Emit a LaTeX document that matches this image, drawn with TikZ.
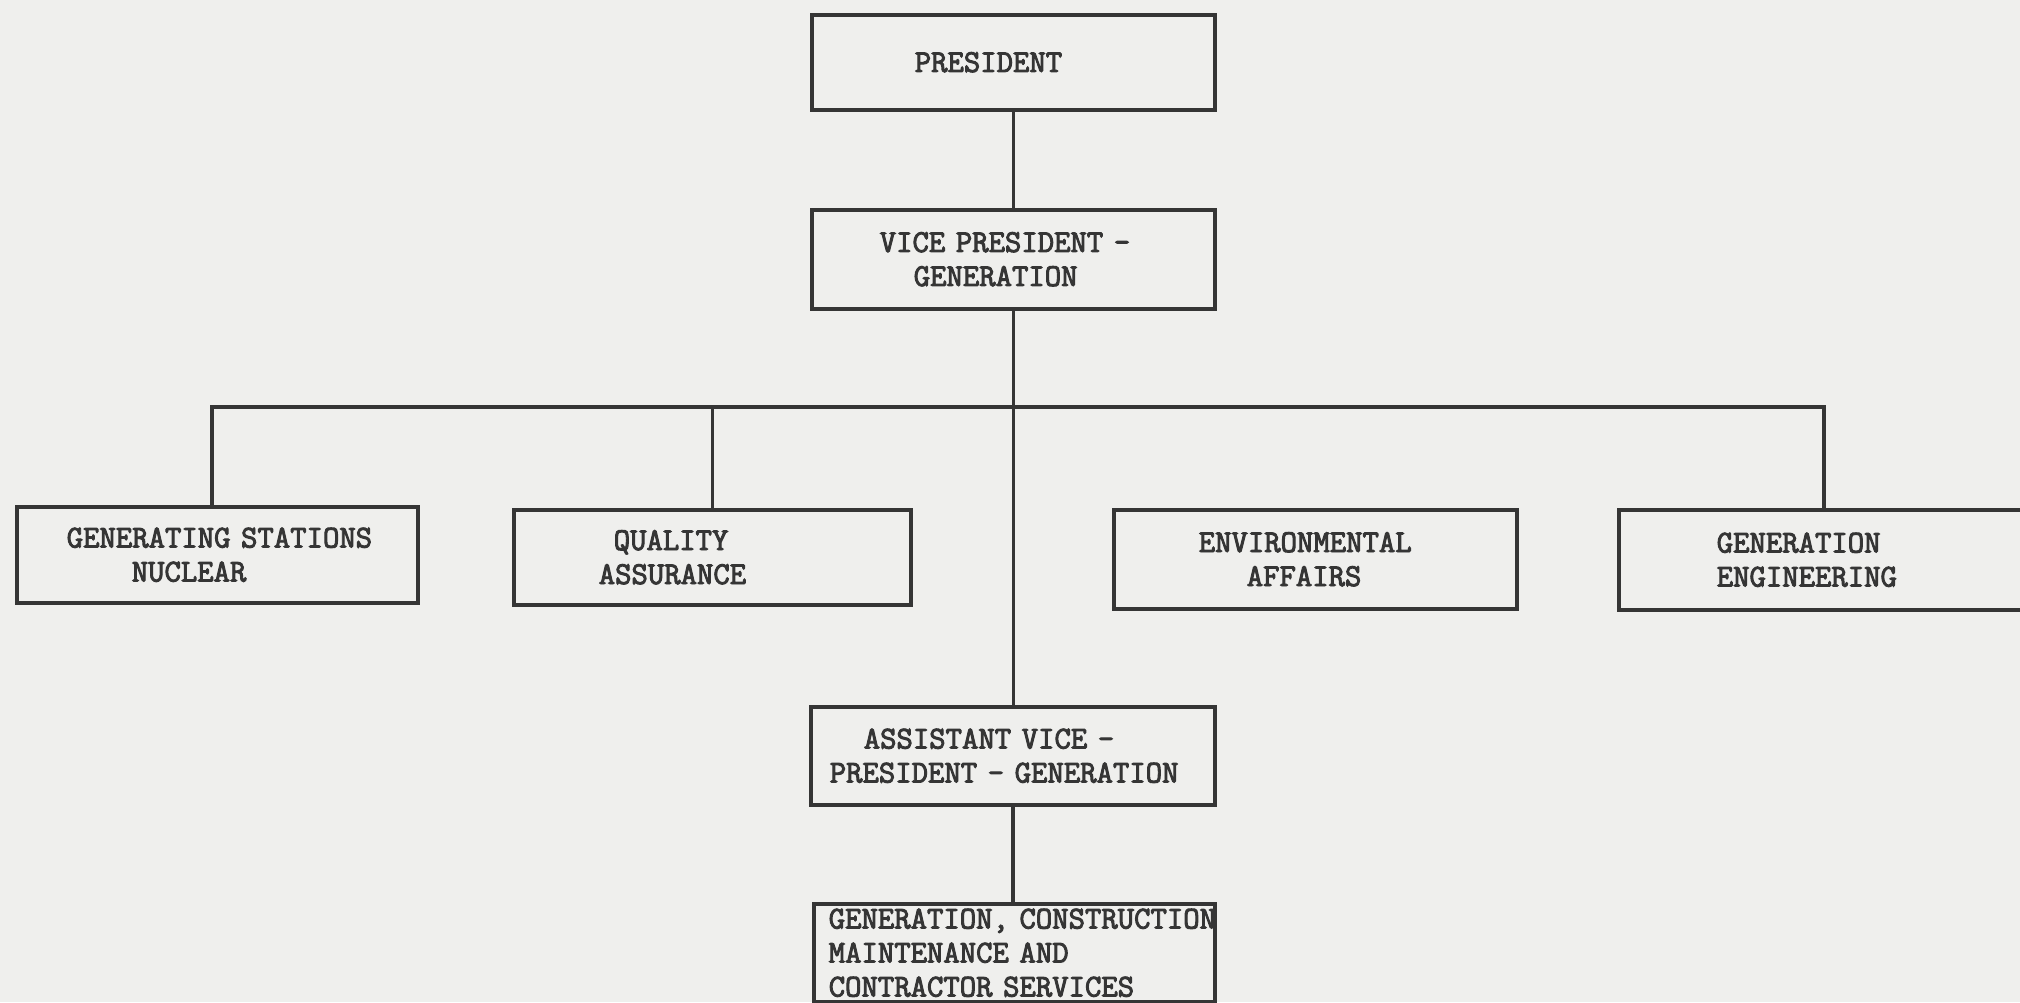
\documentclass[tikz,border=0pt]{standalone}
\usepackage{fontspec}
\newfontfamily\twfont[FakeBold=3]{Latin Modern Mono}
\definecolor{paper}{HTML}{EFEFED}
\definecolor{ink}{HTML}{353535}
\newcommand\tline[2]{\hspace*{#1pt}\mbox{#2}}
\begin{document}
\begin{tikzpicture}[x=1pt,y=-1pt,
  orgbox/.style={draw=ink, line width=3.5pt, inner sep=0pt, anchor=north west,
    align=left, text=ink, font=\twfont\fontsize{31.8}{34}\selectfont},
  link/.style={draw=ink, line width=3.5pt}]
\fill[paper] (0,0) rectangle (2020,1002);
\useasboundingbox (0,0) rectangle (2020,1002);
\node[orgbox, text width=403pt, minimum height=95pt] (pres) at (810,13)
  {\tline{103}{PRESIDENT}};
\node[orgbox, text width=403pt, minimum height=99pt] (vp) at (810,208)
  {\tline{68}{VICE PRESIDENT -}\\\tline{102}{GENERATION}};
\node[orgbox, text width=401pt, minimum height=96pt] (gsn) at (15,505)
  {\tline{50}{GENERATING STATIONS}\\\tline{115}{NUCLEAR}};
\node[orgbox, text width=397pt, minimum height=95pt] (qa) at (512,508)
  {\tline{100}{QUALITY}\\\tline{85}{ASSURANCE}};
\node[orgbox, text width=403pt, minimum height=99pt] (env) at (1112,508)
  {\tline{85}{ENVIRONMENTAL}\\\tline{133}{AFFAIRS}};
\node[orgbox, text width=410pt, minimum height=100pt] (geneng) at (1617,508)
  {\tline{98}{GENERATION}\\\tline{98}{ENGINEERING}};
\node[orgbox, text width=404pt, minimum height=98pt] (avp) at (809,705)
  {\tline{53}{ASSISTANT VICE -}\\\tline{19}{PRESIDENT - GENERATION}};
\node[orgbox, text width=401pt, minimum height=98pt] (gcm) at (812,902)
  {\tline{15}{GENERATION, CONSTRUCTION}\\\tline{15}{MAINTENANCE AND}\\\tline{15}{CONTRACTOR SERVICES}};
\coordinate (bar) at (1011,407);
\draw[link] (pres.south) -- (vp.north);
\draw[link] (vp.south) -- (vp.south |- avp.north);
\draw[link] (avp.south) -- (avp.south |- gcm.north);
\draw[link] ([xshift=-5.5pt]gsn.north) |- (bar) -| (geneng.north);
\draw[link] (qa.north) |- (bar);
\end{tikzpicture}
\end{document}
